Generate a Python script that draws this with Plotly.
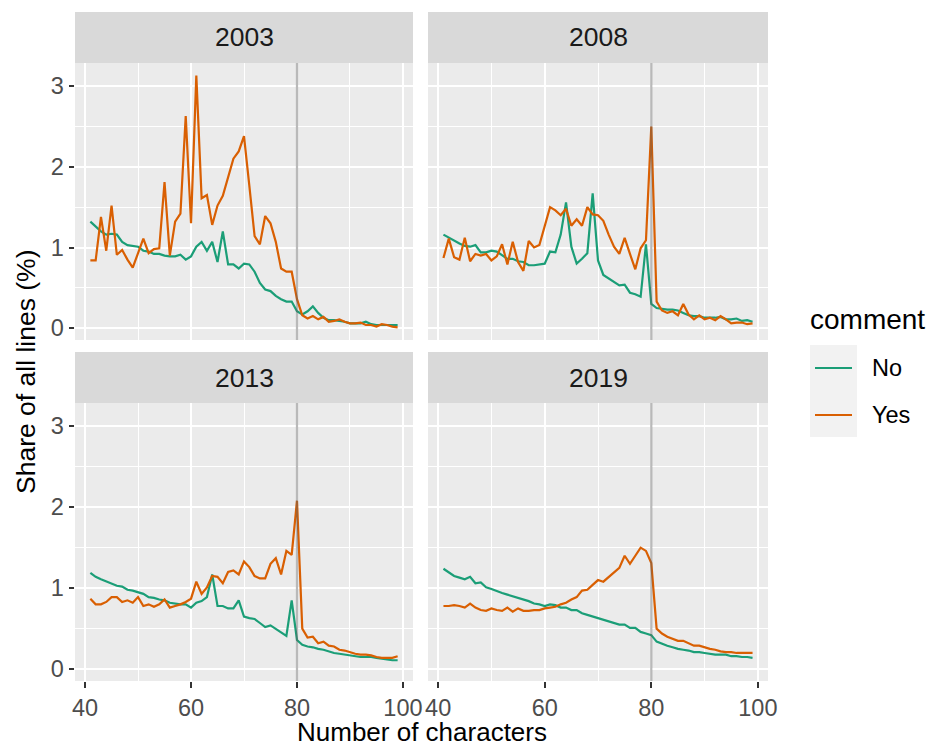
import plotly.graph_objects as go

# Line length (number of characters) on the x axis
chars = list(range(41, 100))

years = ["2003", "2008", "2013", "2019"]

# Share of all lines (%) by line length, for lines without / with a comment
no_2003 = [1.32, 1.26, 1.20, 1.16, 1.17, 1.16, 1.07, 1.03, 1.02, 1.01, 0.96, 0.95, 0.92, 0.92, 0.90,
           0.89, 0.89, 0.91, 0.85, 0.89, 1.01, 1.07, 0.96, 1.07, 0.82, 1.20, 0.79, 0.79, 0.74, 0.80,
           0.79, 0.70, 0.56, 0.48, 0.46, 0.40, 0.36, 0.33, 0.33, 0.21, 0.17, 0.21, 0.27, 0.19, 0.13,
           0.10, 0.10, 0.09, 0.08, 0.06, 0.06, 0.06, 0.08, 0.05, 0.04, 0.04, 0.04, 0.04, 0.04]
yes_2003 = [0.84, 0.84, 1.38, 0.96, 1.52, 0.91, 0.97, 0.85, 0.75, 0.93, 1.11, 0.93, 0.98, 0.99, 1.81,
            0.90, 1.32, 1.42, 2.63, 1.30, 3.13, 1.61, 1.65, 1.28, 1.52, 1.64, 1.86, 2.10, 2.19, 2.38,
            1.77, 1.14, 1.04, 1.39, 1.30, 1.07, 0.74, 0.70, 0.70, 0.36, 0.16, 0.12, 0.15, 0.11, 0.14,
            0.08, 0.09, 0.11, 0.08, 0.06, 0.06, 0.07, 0.04, 0.04, 0.02, 0.05, 0.04, 0.02, 0.01]

no_2008 = [1.16, 1.12, 1.09, 1.05, 1.02, 1.01, 1.03, 0.94, 0.94, 0.96, 0.95, 0.90, 0.86, 0.86, 0.83,
           0.82, 0.78, 0.78, 0.79, 0.80, 0.95, 0.94, 1.16, 1.56, 1.01, 0.80, 0.86, 0.93, 1.67, 0.84,
           0.66, 0.62, 0.58, 0.53, 0.54, 0.44, 0.42, 0.39, 1.04, 0.30, 0.25, 0.24, 0.23, 0.23, 0.22,
           0.19, 0.16, 0.15, 0.15, 0.13, 0.13, 0.13, 0.14, 0.11, 0.11, 0.12, 0.09, 0.10, 0.08]
yes_2008 = [0.87, 1.11, 0.88, 0.85, 1.12, 0.83, 0.92, 0.90, 0.92, 0.84, 0.89, 1.04, 0.79, 1.07, 0.82,
            0.71, 1.08, 1.00, 1.03, 1.28, 1.50, 1.46, 1.40, 1.48, 1.27, 1.35, 1.27, 1.50, 1.41, 1.40,
            1.33, 1.16, 1.01, 0.92, 1.12, 0.92, 0.73, 0.99, 1.09, 2.50, 0.33, 0.22, 0.19, 0.21, 0.16,
            0.30, 0.17, 0.11, 0.16, 0.11, 0.13, 0.10, 0.15, 0.11, 0.06, 0.07, 0.07, 0.05, 0.06]

no_2013 = [1.19, 1.14, 1.11, 1.08, 1.05, 1.03, 1.02, 0.98, 0.97, 0.95, 0.93, 0.89, 0.88, 0.86, 0.85,
           0.82, 0.81, 0.80, 0.80, 0.76, 0.82, 0.84, 0.89, 1.17, 0.78, 0.78, 0.75, 0.75, 0.85, 0.65,
           0.63, 0.62, 0.57, 0.52, 0.54, 0.50, 0.46, 0.41, 0.85, 0.36, 0.30, 0.28, 0.27, 0.25, 0.24,
           0.22, 0.20, 0.19, 0.18, 0.17, 0.16, 0.15, 0.15, 0.15, 0.14, 0.13, 0.12, 0.11, 0.11]
yes_2013 = [0.87, 0.80, 0.80, 0.83, 0.89, 0.89, 0.83, 0.85, 0.82, 0.89, 0.78, 0.80, 0.77, 0.80, 0.86,
            0.76, 0.78, 0.80, 0.83, 0.87, 1.08, 0.93, 1.01, 1.15, 1.14, 1.06, 1.20, 1.22, 1.17, 1.33,
            1.26, 1.15, 1.12, 1.12, 1.30, 1.37, 1.17, 1.46, 1.41, 2.08, 0.50, 0.39, 0.40, 0.32, 0.34,
            0.29, 0.28, 0.24, 0.23, 0.21, 0.19, 0.18, 0.18, 0.17, 0.15, 0.14, 0.14, 0.14, 0.16]

no_2019 = [1.24, 1.20, 1.15, 1.13, 1.11, 1.14, 1.06, 1.07, 1.01, 0.99, 0.96, 0.94, 0.92, 0.90, 0.88,
           0.86, 0.84, 0.81, 0.80, 0.78, 0.80, 0.79, 0.76, 0.76, 0.73, 0.73, 0.69, 0.67, 0.65, 0.63,
           0.61, 0.59, 0.57, 0.55, 0.55, 0.51, 0.51, 0.46, 0.44, 0.42, 0.34, 0.31, 0.29, 0.27, 0.25,
           0.24, 0.23, 0.21, 0.21, 0.20, 0.19, 0.18, 0.18, 0.18, 0.16, 0.16, 0.15, 0.15, 0.14]
yes_2019 = [0.78, 0.78, 0.79, 0.78, 0.76, 0.81, 0.76, 0.73, 0.72, 0.75, 0.73, 0.72, 0.76, 0.71, 0.75,
            0.72, 0.72, 0.73, 0.73, 0.75, 0.76, 0.77, 0.80, 0.82, 0.86, 0.89, 0.97, 0.98, 1.04, 1.10,
            1.08, 1.14, 1.19, 1.25, 1.40, 1.30, 1.40, 1.50, 1.46, 1.31, 0.50, 0.44, 0.40, 0.37, 0.35,
            0.35, 0.32, 0.29, 0.29, 0.27, 0.25, 0.24, 0.22, 0.21, 0.21, 0.20, 0.20, 0.20, 0.20]

no_series = [no_2003, no_2008, no_2013, no_2019]
yes_series = [yes_2003, yes_2008, yes_2013, yes_2019]

x_ticks = [40, 60, 80, 100]
y_ticks = [0, 1, 2, 3]
limit = 80

COL_NO = "#1B9E77"
COL_YES = "#D95F02"
FONT = "Liberation Sans, Arial, sans-serif"
TICK_SIZE = 23.5
STRIP_SIZE = 26.5
TITLE_SIZE = 26

W, H = 934, 749
ML, MR, MT, MB = 75, 166, 12, 66
PW, PH = W - ML - MR, H - MT - MB


def px_x(p):
    return (p - ML) / PW


def px_y(p):
    return (H - MB - p) / PH


# panel plot areas in pixels: (left, right, top, bottom)
panels = [(75, 413, 63, 340), (428, 768, 63, 340), (75, 413, 403, 681), (428, 768, 403, 681)]
strips = [(12, 63), (12, 63), (352, 403), (352, 403)]

fig = go.Figure()

xr = [41 - 0.05 * 58, 99 + 0.05 * 58]
all_vals = [v for s in no_series + yes_series for v in s]
lo, hi = min(all_vals), max(all_vals)
yr = [lo - 0.05 * (hi - lo), hi + 0.05 * (hi - lo)]

shapes = []
annotations = []
for i, yr_label in enumerate(years):
    n = "" if i == 0 else str(i + 1)
    xa, ya = "x" + n, "y" + n
    fig.add_trace(go.Scatter(x=chars, y=no_series[i], mode="lines", name="No",
                             line=dict(color=COL_NO, width=2.2), xaxis=xa, yaxis=ya,
                             showlegend=False))
    fig.add_trace(go.Scatter(x=chars, y=yes_series[i], mode="lines", name="Yes",
                             line=dict(color=COL_YES, width=2.2), xaxis=xa, yaxis=ya,
                             showlegend=False))
    l, r, t, b = panels[i]
    bottom_row = i >= 2
    left_col = i % 2 == 0
    fig.update_layout(**{
        "xaxis" + n: dict(
            domain=[px_x(l), px_x(r)], anchor=ya, range=xr,
            tickvals=x_ticks, showticklabels=bottom_row,
            ticks="outside" if bottom_row else "", ticklen=5.5, tickwidth=1.6, tickcolor="#333333",
            tickfont=dict(family=FONT, size=TICK_SIZE, color="#4D4D4D"),
            showgrid=True, gridcolor="white", gridwidth=1.6,
            minor=dict(tickvals=[50, 70, 90], showgrid=True, gridcolor="white", gridwidth=0.8, ticks=""),
            zeroline=False, showline=False, fixedrange=True,
        ),
        "yaxis" + n: dict(
            domain=[px_y(b), px_y(t)], anchor=xa, range=yr,
            tickvals=y_ticks, showticklabels=left_col,
            ticks="outside" if left_col else "", ticklen=5.5, tickwidth=1.6, tickcolor="#333333",
            tickfont=dict(family=FONT, size=TICK_SIZE, color="#4D4D4D"),
            showgrid=True, gridcolor="white", gridwidth=1.6,
            minor=dict(tickvals=[0.5, 1.5, 2.5], showgrid=True, gridcolor="white", gridwidth=0.8, ticks=""),
            zeroline=False, showline=False, fixedrange=True,
        ),
    })
    # panel background
    shapes.append(dict(type="rect", xref="paper", yref="paper", layer="below",
                       x0=px_x(l), x1=px_x(r), y0=px_y(b), y1=px_y(t),
                       fillcolor="#EBEBEB", line=dict(width=0)))
    # strip
    s0, s1 = strips[i]
    shapes.append(dict(type="rect", xref="paper", yref="paper", layer="below",
                       x0=px_x(l), x1=px_x(r), y0=px_y(s1), y1=px_y(s0),
                       fillcolor="#D9D9D9", line=dict(width=0)))
    annotations.append(dict(text=yr_label, xref="paper", yref="paper",
                            x=px_x((l + r) / 2), y=px_y((s0 + s1) / 2),
                            xanchor="center", yanchor="middle", showarrow=False,
                            font=dict(family=FONT, size=STRIP_SIZE, color="#1A1A1A")))
    # 80-character reference line
    shapes.append(dict(type="line", xref=xa, yref=ya + " domain", x0=limit, x1=limit, y0=0, y1=1,
                       layer="above", line=dict(color="rgba(100,100,100,0.45)", width=2.2)))

# axis titles
annotations.append(dict(text="Number of characters", xref="paper", yref="paper",
                        x=px_x(421.5), y=px_y(749), xanchor="center", yanchor="bottom",
                        showarrow=False, font=dict(family=FONT, size=TITLE_SIZE, color="black")))
annotations.append(dict(text="Share of all lines (%)", xref="paper", yref="paper",
                        x=px_x(26), y=px_y(372), xanchor="center", yanchor="middle", textangle=-90,
                        showarrow=False, font=dict(family=FONT, size=26.5, color="black")))

# legend
annotations.append(dict(text="comment", xref="paper", yref="paper", x=px_x(808), y=px_y(320),
                        xanchor="left", yanchor="middle", showarrow=False,
                        font=dict(family=FONT, size=28, color="black")))
shapes.append(dict(type="rect", xref="paper", yref="paper", x0=px_x(810), x1=px_x(857),
                   y0=px_y(437), y1=px_y(345), fillcolor="#F2F2F2", line=dict(width=0)))
for label, col, yc in [("No", COL_NO, 368), ("Yes", COL_YES, 415)]:
    shapes.append(dict(type="line", xref="paper", yref="paper", x0=px_x(815), x1=px_x(852),
                       y0=px_y(yc), y1=px_y(yc), line=dict(color=col, width=2.2)))
    annotations.append(dict(text=label, xref="paper", yref="paper", x=px_x(870), y=px_y(yc),
                            xanchor="left", yanchor="middle", showarrow=False,
                            font=dict(family=FONT, size=TICK_SIZE, color="black")))

fig.update_layout(
    width=W, height=H,
    margin=dict(l=ML, r=MR, t=MT, b=MB),
    paper_bgcolor="white", plot_bgcolor="rgba(0,0,0,0)",
    shapes=shapes, annotations=annotations, showlegend=False,
    font=dict(family=FONT),
)

fig.write_html("out.html")
